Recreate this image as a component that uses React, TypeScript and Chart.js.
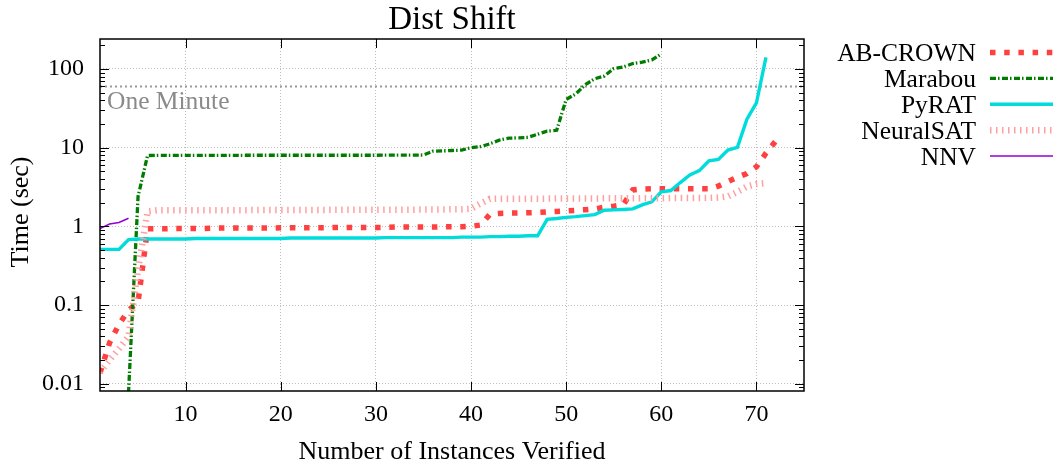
import { useEffect, useRef } from "react";
import { Chart, registerables } from "chart.js";

Chart.register(...registerables);

const FONT = "'Liberation Serif', 'DejaVu Serif', serif";

const X_MIN = 1;
const X_MAX = 75;
const Y_MIN = 0.0081;
const Y_MAX = 240;
const xTickValues = [10, 20, 30, 40, 50, 60, 70];
const yTickValues = [0.01, 0.1, 1, 10, 100];
const yTickLabels = ["0.01", "0.1", "1", "10", "100"];
const oneMinute = 60;
const oneMinuteLabel = "One Minute";

const seriesNames = ["AB-CROWN", "Marabou", "PyRAT", "NeuralSAT", "NNV"];

const abCrown = [
  0.0137, 0.033, 0.057, 0.086, 0.109, 0.93, 0.93, 0.93, 0.94, 0.94,
  0.94, 0.94, 0.95, 0.95, 0.95, 0.95, 0.95, 0.95, 0.95, 0.96,
  0.96, 0.96, 0.96, 0.96, 0.96, 0.97, 0.97, 0.97, 0.97, 0.97,
  0.97, 0.98, 0.98, 0.98, 0.98, 0.98, 0.99, 0.99, 0.99, 1.0,
  1.04, 1.43, 1.46, 1.47, 1.48, 1.49, 1.5, 1.53, 1.55, 1.57,
  1.6, 1.63, 1.66, 1.75, 1.8, 1.88, 2.9, 2.98, 3.0, 3.0,
  3.0, 3.0, 3.0, 3.0, 3.0, 3.25, 3.7, 4.2, 4.7, 5.7,
  8.5, 12.0,
];

const marabou = [
  0.004, 0.005, 0.006, 0.0078, 2.4, 7.95, 7.96, 7.97, 7.97, 7.98,
  7.98, 7.98, 7.99, 7.99, 7.99, 8.0, 8.0, 8.0, 8.0, 8.0,
  8.0, 8.0, 8.0, 8.0, 8.0, 8.01, 8.01, 8.01, 8.01, 8.01,
  8.02, 8.03, 8.04, 8.05, 8.06, 9.0, 9.1, 9.2, 9.3, 10.0,
  10.3, 11.2, 12.5, 13.2, 13.3, 13.5, 14.8, 16.2, 16.6, 41,
  48, 63, 75, 81, 101, 106, 117, 122, 130, 155,
];

const pyrat = [
  0.51, 0.51, 0.51, 0.68, 0.69, 0.69, 0.69, 0.69, 0.69, 0.69,
  0.7, 0.7, 0.7, 0.7, 0.7, 0.7, 0.7, 0.7, 0.7, 0.7,
  0.71, 0.71, 0.71, 0.71, 0.71, 0.71, 0.71, 0.71, 0.71, 0.71,
  0.72, 0.72, 0.72, 0.72, 0.72, 0.72, 0.72, 0.72, 0.73, 0.73,
  0.73, 0.74, 0.74, 0.75, 0.75, 0.76, 0.76, 1.23, 1.26, 1.3,
  1.33, 1.37, 1.41, 1.6, 1.62, 1.64, 1.67, 1.87, 2.05, 2.75,
  2.85, 3.6, 4.5, 5.1, 6.8, 7.1, 9.3, 10.1, 23, 37,
  140,
];

const neuralSat = [
  0.014, 0.02, 0.028, 0.04, 0.28, 1.55, 1.6, 1.6, 1.6, 1.6,
  1.6, 1.6, 1.6, 1.6, 1.6, 1.6, 1.61, 1.61, 1.61, 1.61,
  1.61, 1.61, 1.61, 1.61, 1.62, 1.62, 1.62, 1.62, 1.62, 1.62,
  1.63, 1.63, 1.63, 1.63, 1.64, 1.64, 1.64, 1.65, 1.65, 1.67,
  1.95, 2.24, 2.25, 2.25, 2.25, 2.25, 2.25, 2.25, 2.26, 2.26,
  2.26, 2.26, 2.26, 2.27, 2.27, 2.27, 2.27, 2.28, 2.28, 2.28,
  2.29, 2.29, 2.29, 2.3, 2.3, 2.32, 2.4, 2.75, 3.2, 3.45,
  3.55,
];

const nnv = [0.94, 1.07, 1.12, 1.27];

const seriesValues = [abCrown, marabou, pyrat, neuralSat, nnv];

const seriesStyles = [
  { color: "#ff4040", width: 5.5, dash: [5.5, 8.7] },
  { color: "#007d00", width: 3.3, dash: [6, 2, 1.5, 2.5] },
  { color: "#00dcdc", width: 3.4, dash: [] as number[] },
  { color: "#ffa0a0", width: 6.5, dash: [1.5, 4.5] },
  { color: "#9400d3", width: 1.5, dash: [] as number[] },
];

const decorPlugin = {
  id: "decor",
  afterDraw(chart: any) {
    const { ctx, chartArea, scales } = chart;
    const { left, right, top, bottom } = chartArea;
    const xs = scales.x;
    const ys = scales.y;
    ctx.save();

    ctx.strokeStyle = "#000";
    ctx.lineWidth = 1;
    ctx.setLineDash([]);
    ctx.beginPath();
    const major = 9;
    const minor = 5;
    for (const v of xTickValues) {
      const px = Math.round(xs.getPixelForValue(v)) + 0.5;
      ctx.moveTo(px, bottom);
      ctx.lineTo(px, bottom - major);
      ctx.moveTo(px, top);
      ctx.lineTo(px, top + major);
    }
    for (const v of yTickValues) {
      const py = Math.round(ys.getPixelForValue(v)) + 0.5;
      ctx.moveTo(left, py);
      ctx.lineTo(left + major, py);
      ctx.moveTo(right, py);
      ctx.lineTo(right - major, py);
    }
    for (let e = -3; e <= 2; e++) {
      for (let m = 2; m <= 9; m++) {
        const v = m * Math.pow(10, e);
        if (v < Y_MIN || v > Y_MAX) continue;
        const py = Math.round(ys.getPixelForValue(v)) + 0.5;
        ctx.moveTo(left, py);
        ctx.lineTo(left + minor, py);
        ctx.moveTo(right, py);
        ctx.lineTo(right - minor, py);
      }
    }
    ctx.stroke();

    ctx.lineWidth = 1.5;
    ctx.strokeRect(left, top, right - left, bottom - top);

    ctx.fillStyle = "#000";
    ctx.textAlign = "center";
    ctx.textBaseline = "alphabetic";
    ctx.font = `33px ${FONT}`;
    ctx.fillText("Dist Shift", (left + right) / 2, 29);

    ctx.font = `26px ${FONT}`;
    ctx.fillText("Number of Instances Verified", (left + right) / 2, 458.5);

    ctx.save();
    ctx.translate(27.5, 212);
    ctx.rotate(-Math.PI / 2);
    ctx.font = `26px ${FONT}`;
    ctx.fillText("Time (sec)", 0, 0);
    ctx.restore();

    ctx.fillStyle = "#8a8a8a";
    ctx.textAlign = "left";
    ctx.font = `25.5px ${FONT}`;
    ctx.fillText(oneMinuteLabel, 107, 109);

    ctx.font = `25.5px ${FONT}`;
    ctx.textAlign = "right";
    for (let i = 0; i < seriesNames.length; i++) {
      const y = 52.5 + i * 25.9;
      ctx.fillStyle = "#000";
      ctx.fillText(seriesNames[i], 976, y + 8.4);
      const st = seriesStyles[i];
      ctx.strokeStyle = st.color;
      ctx.lineWidth = st.width;
      ctx.setLineDash(st.dash);
      ctx.beginPath();
      ctx.moveTo(990, y);
      ctx.lineTo(1053, y);
      ctx.stroke();
    }
    ctx.restore();
  },
};

export default function App() {
  const ref = useRef<HTMLCanvasElement>(null);

  useEffect(() => {
    const canvas = ref.current;
    if (!canvas) return;

    const datasets: any[] = seriesValues.map((vals, i) => ({
      label: seriesNames[i],
      data: vals.map((v, k) => ({ x: k + 1, y: v })),
      borderColor: seriesStyles[i].color,
      backgroundColor: seriesStyles[i].color,
      borderWidth: seriesStyles[i].width,
      borderDash: seriesStyles[i].dash,
      borderCapStyle: "butt",
      borderJoinStyle: "miter",
      pointRadius: 0,
      tension: 0,
      fill: false,
      clip: 0,
      order: seriesNames.length - i,
    }));

    datasets.push({
      label: oneMinuteLabel,
      data: [
        { x: X_MIN, y: oneMinute },
        { x: X_MAX, y: oneMinute },
      ],
      borderColor: "#999999",
      borderWidth: 2,
      borderDash: [2, 3],
      pointRadius: 0,
      fill: false,
      clip: 0,
      order: 20,
    });

    const chart = new Chart(canvas, {
      type: "line",
      data: { datasets },
      options: {
        responsive: false,
        animation: false,
        devicePixelRatio: 1,
        layout: { padding: { top: 39, right: 250, bottom: 0, left: 0 } },
        plugins: {
          legend: { display: false },
          title: { display: false },
          tooltip: { enabled: false },
        },
        scales: {
          x: {
            type: "linear",
            min: X_MIN,
            max: X_MAX,
            afterBuildTicks: (s: any) => {
              s.ticks = xTickValues.map((v) => ({ value: v }));
            },
            afterFit: (s: any) => {
              s.height = 76;
            },
            grid: {
              color: "#bdbdbd",
              lineWidth: 1,
              drawTicks: false,
              borderDash: [1, 2],
            } as any,
            border: { display: false, dash: [1, 2] },
            ticks: {
              color: "#000",
              font: { family: FONT, size: 24 },
              padding: 9,
              maxRotation: 0,
              autoSkip: false,
              callback: (v: any) => String(v),
            },
          },
          y: {
            type: "logarithmic",
            min: Y_MIN,
            max: Y_MAX,
            afterBuildTicks: (s: any) => {
              s.ticks = yTickValues.map((v) => ({ value: v }));
            },
            afterFit: (s: any) => {
              s.width = 100;
            },
            grid: {
              color: "#bdbdbd",
              lineWidth: 1,
              drawTicks: false,
              borderDash: [1, 2],
            } as any,
            border: { display: false, dash: [1, 2] },
            ticks: {
              color: "#000",
              font: { family: FONT, size: 24 },
              padding: 16,
              autoSkip: false,
              callback: (v: any) => {
                const idx = yTickValues.findIndex((t) => Math.abs(t - v) / t < 1e-6);
                return idx >= 0 ? yTickLabels[idx] : "";
              },
            },
          },
        },
      } as any,
      plugins: [decorPlugin],
    });

    return () => chart.destroy();
  }, []);

  return (
    <div
      style={{
        position: "fixed",
        left: 0,
        top: 0,
        width: 1054,
        height: 467,
        background: "#fff",
      }}
    >
      <canvas ref={ref} width={1054} height={467} style={{ display: "block", width: 1054, height: 467 }} />
    </div>
  );
}
